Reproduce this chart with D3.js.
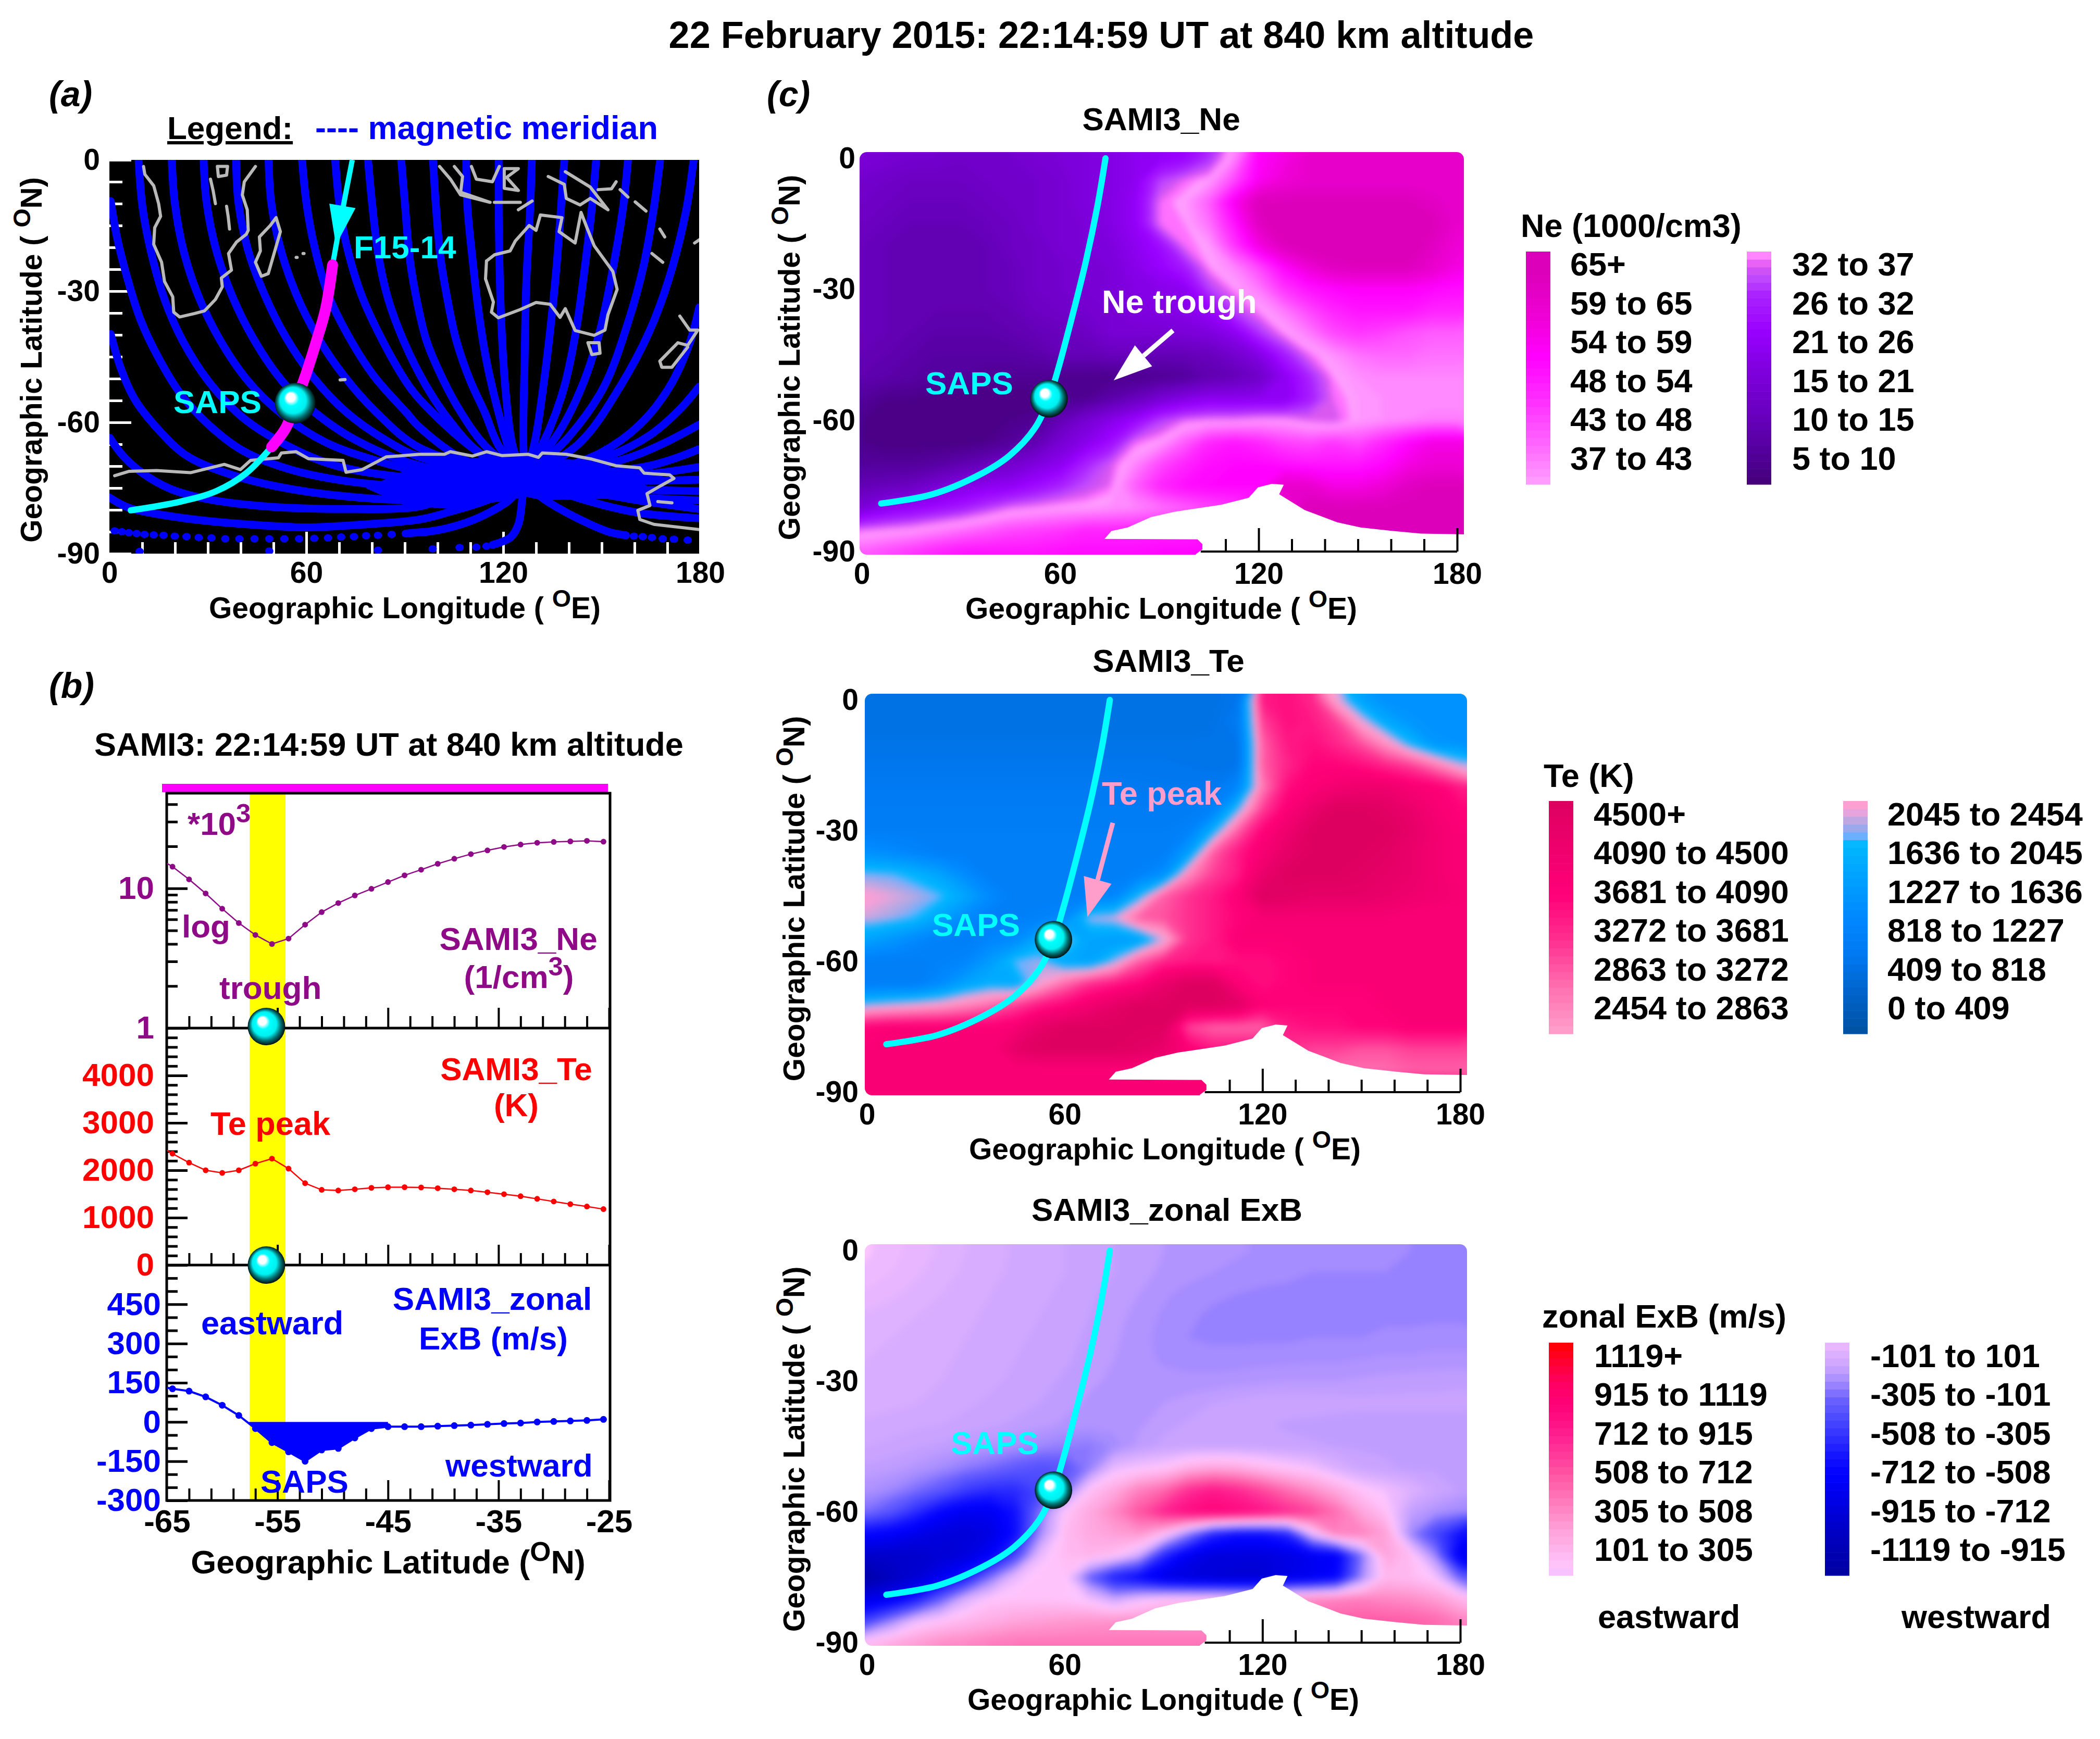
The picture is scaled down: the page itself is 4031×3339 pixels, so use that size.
<!DOCTYPE html>
<html>
<head>
<meta charset="utf-8">
<script src="https://cdnjs.cloudflare.com/ajax/libs/d3/7.8.5/d3.min.js"></script>
<style>
  body { margin: 0; background: #fff; }
  svg { display: block; }
  text { font-family: "Liberation Sans", Arial, sans-serif; font-weight: bold; }
</style>
</head>
<body>
<script>
/*******************************/
/*    Data  */
/*******************************/
// Panel (b): latitude of the samples
const sampleLat = [-65, -64.5, -63, -61.5, -60, -58.5, -57, -55.5, -54, -52.5, -51, -49.5, -48, -46.5, -45, -43.5, -42, -40.5, -39, -37.5, -36, -34.5, -33, -31.5, -30, -28.5, -27, -25.5];
const sampleNe = [15.1, 14.3, 11.6, 9.2, 7.15, 5.65, 4.64, 4.0, 4.37, 5.5, 6.76, 7.85, 8.9, 9.93, 11.1, 12.4, 13.6, 15.0, 16.3, 17.6, 18.7, 19.8, 20.6, 21.2, 21.5, 21.7, 21.9, 21.6];
const sampleTe = [2420, 2351, 2161, 2000, 1944, 2000, 2140, 2245, 2035, 1727, 1587, 1573, 1600, 1629, 1643, 1643, 1636, 1622, 1600, 1573, 1537, 1495, 1453, 1397, 1341, 1285, 1236, 1180];
const sampleExb = [131, 127, 118, 96, 64, 25, -25, -79, -114, -150, -107, -101, -61, -25, -18, -18, -18, -16, -14, -12, -9, -6, -4, 0, 2, 4, 6, 10];

// Satellite track (lon, lat)
const trackLon = [73.7, 71.3, 67.8, 63.6, 59.4, 56.6, 52.3, 44.6, 35.4, 21.4, 5.9];
const trackLat = [0, -10.8, -23.5, -36.3, -48.2, -55, -61.8, -68.1, -72.5, -76.9, -79];
const trackLonA = [74, 70.8, 68, 65.9, 63, 59.4, 56.6, 53.8, 49.4, 41.7, 32.6, 21.7, 6.5];
const trackLatA = [0, -12.4, -24, -34, -41.6, -50, -55.5, -61.2, -65.6, -71.6, -75.7, -78.1, -80.1];

// Panel (a): magnetic meridians as [lon, lat], each one ends at the pole
const pole = [126.5, -73];
const meridians = [
  [[0.4,-9.4],[2.2,-17.3],[5.3,-26.6],[9.5,-36.6],[15,-45.3],[21.7,-53.5],[30.2,-60.5],[40.5,-66.4],[53.9,-70.5],[72.1,-73.4],[94.5,-74.6]],
  [[0.4,-39.8],[3.5,-47.7],[7.7,-54.7],[15,-61.7],[23.5,-67.6],[35.7,-71.6],[50.8,-74.6],[72.1,-76.9],[94.5,-77.5]],
  [[0.1,-63.5],[4.1,-67.6],[10.1,-71.6],[18.6,-75.2],[29.6,-77.5],[47.8,-79.2],[72.1,-79.8],[94.5,-79.2],[103.9,-76.9]],
  [[0.1,-77.2],[5.9,-79.5],[17.4,-81.3],[29.6,-82.5],[47.8,-83.6],[60,-84],[78.2,-83.3],[94.5,-82.2],[103.9,-80.4],[116,-77.5]],
  [[90.3,-85.4],[94.8,-85.1],[96.9,-85],[103.9,-84],[113,-81.6],[122.2,-77.5]],
  [[116.7,-88],[122.2,-86.3],[124.6,-83.3],[125.8,-77.5]],
  [[8.9,0],[10.1,-10.9],[12.6,-20.8],[16.8,-31.9],[22.3,-41.3],[30.2,-50.6],[40.5,-58.8],[53.9,-65.2],[69.1,-69.9],[94.5,-72.8]],
  [[19,0],[19.9,-9.7],[22.6,-20.8],[27.2,-31.3],[33.8,-41.3],[42.3,-50.6],[52.7,-58.2],[66,-64.6],[81.2,-68.7],[94.5,-71.1]],
  [[28.7,0],[29.6,-9.7],[32.6,-20.8],[37.5,-31.3],[44.2,-41.3],[52.7,-50.6],[62.4,-57.6],[75.2,-64.1],[94.5,-69.9]],
  [[38.6,0],[39.3,-9.7],[42.3,-20.8],[47.2,-30.7],[53.9,-40.7],[61.8,-49.4],[72.1,-57.6],[84.3,-64.1],[94.5,-67.9]],
  [[48.5,0],[49.3,-9.7],[52.1,-20.2],[56.9,-30.7],[63.6,-40.7],[71.5,-49.4],[81.2,-57.6],[94.5,-65.8]],
  [[58.7,0],[60,-9.7],[62.4,-19.6],[66.6,-30.7],[72.7,-40.1],[80.6,-49.4],[90.3,-57.6],[94.5,-61.1],[108,-68.5]],
  [[68.8,0],[70,-9.7],[72.1,-19],[76.7,-30.7],[82.4,-40.1],[90.3,-50.6],[94.5,-54.7],[110,-65.5]],
  [[88.9,0],[90,-9.7],[91.5,-22.5],[93.6,-31.9],[96.6,-41.3],[101.5,-50],[107,-57.6],[114.3,-65.2]],
  [[78.8,0],[80,-9.7],[82,-22],[85,-32],[90,-42],[96,-51],[103,-59],[112,-66.5]],
  [[98.6,0],[99.4,-9.7],[100.9,-22.5],[103,-31.9],[105.7,-41.3],[110,-50.6],[114.3,-57.6],[118.5,-65.2]],
  [[108.7,0],[109.1,-10.9],[110.6,-22.5],[112.4,-34.2],[114.9,-46],[118.5,-57.6],[122.2,-67]],
  [[118.6,0],[118.6,-10.9],[118.8,-22.5],[119.4,-37.2],[120.6,-51.8],[122.8,-65.2]],
  [[128.7,0],[128.2,-10.9],[127,-28.4],[126.5,-46],[126.1,-63.5]],
  [[138.6,0],[137.6,-10.9],[136.1,-25.5],[134.3,-38.9],[132.2,-51.8],[129.7,-64.1]],
  [[148.3,0],[147,-10.9],[144.9,-24.3],[142.2,-38.9],[138.6,-51.8],[134.3,-61.1]],
  [[158,0],[156.5,-10.9],[153.4,-24.9],[149.5,-38.9],[144.6,-50.6],[137.9,-61.1]],
  [[167.8,0],[165.9,-10.9],[162.9,-23.7],[158,-37.2],[150.7,-51.8],[140.4,-62.9]],
  [[178,0],[175.6,-12],[170.7,-26.6],[164.7,-38.9],[155.6,-51.8],[143.4,-64.6]],
  [[179.7,-33.7],[176.8,-41.8],[170.7,-51.8],[161.6,-60.5],[149.5,-67]],
  [[179.7,-51.8],[173.8,-57],[164.7,-62.9],[152.5,-67.6]],
  [[179.7,-60.5],[167.7,-65.2],[155.6,-68.7]],
  [[179.7,-66.1],[164.7,-69.9]],
  [[179.7,-70.2],[161.6,-72]],
  [[179.7,-73.1],[158.6,-73.4]],
  [[179.7,-75.7],[158.6,-75.2]],
  [[179.7,-77.8],[158.6,-76.9]],
  [[179.7,-79.8],[158.6,-77.5]],
  [[179.7,-81.9],[161.6,-80.7],[146.5,-78.1]],
  [[157.4,-85.8],[152.5,-85.1],[146.5,-83.3],[137.3,-79.8],[131.3,-76.9]]
];
// Solid part where the meridians run together around the pole, it narrows off to the west and the east
const meridianCore = [[78,-75],[90,-71],[103.9,-68.4],[124.6,-67.6],[146.5,-68.8],[158,-72],[166,-75.5],[158,-77.5],[149.5,-77.5],[131.9,-77.8],[127,-77],[121.5,-77.8],[103.9,-79.8],[90,-79]];
// Separate blobs at the bottom of the meridian field
const meridianDots = [[1.6,-84.8],[3.8,-85],[5.9,-85.2],[8.3,-85.4],[10.7,-85.6],[13.5,-85.7],[16.5,-85.8],[19.9,-86],[23.5,-86.1],[27.2,-86.3],[31.1,-86.4],[35.3,-86.6],[39.6,-86.6],[44.2,-86.6],[48.7,-86.6],[53.3,-86.6],[57.8,-86.6],[62.4,-86.5],[66.6,-86.4],[70.6,-86.2],[74.5,-86.1],[78.2,-85.9],[81.8,-85.8],[86,-85.6],[90.3,-85.4],
  [176.2,-86.9],[172,-86.7],[168.6,-86.6],[165.3,-86.3],[162.5,-86.1],[159.8,-86],
  [9.2,-89.5],[48.7,-89.4],[81.8,-89.2],[98.5,-88.9],[106.7,-88.6],[111.8,-88.5],[114.9,-88.3]];

// Panel (a): coastlines as [lon, lat]
const coastlines = [
  [[10.4,-1.5],[10.8,-3.3],[13.5,-5.9],[15,-10],[15.6,-12.9],[13.8,-15.5],[13.5,-19.3],[15.9,-23.4],[16.8,-27.8],[19.3,-31.3],[19.6,-34.8],[21.4,-35.9],[26,-35.1],[29,-34.5],[32.3,-31.9],[34.4,-29],[34.1,-27],[37.2,-25.2],[36.3,-21.4],[38.7,-18.8],[41.7,-17],[42.3,-16.1],[42,-11.4],[40.5,-8],[41.1,-5],[44.5,-1.5]],
  [[50.8,-13.2],[49,-15],[45.7,-17.6],[46,-20.8],[44.5,-23.4],[46.3,-26.6],[48.4,-26],[52.1,-16.4],[50.8,-13.2]],
  [[32.9,-1.5],[36,-1.5],[35.7,-3.5],[33.2,-3.8],[32.9,-1.5]],
  [[30.8,-4.4],[31.6,-7],[32.3,-10]],
  [[35.7,-10.6],[36.2,-13],[36.6,-15.8]],
  [[56.9,-22.3],[57.2,-22.3]],
  [[59,-21.4],[59.3,-21.4]],
  [[70.3,-50.3],[71.8,-50.2]],
  [[114.9,-23.1],[114.6,-27.2],[117,-32.5],[116.4,-34.8],[118.5,-36.1],[125.2,-34.2],[130,-32.6],[134.3,-33],[137.3,-36],[138.9,-34],[141.9,-39],[147.7,-40.1],[151,-38.9],[151.9,-35.4],[154.7,-29.6],[153.4,-25.5],[147.7,-19.6],[145.5,-15.5],[143.7,-12],[141.9,-19],[137,-16.4],[137.9,-13.2],[131.3,-12.6],[130,-16.1],[127.9,-15],[123.7,-18.5],[122.1,-20.8],[117.3,-21.7],[114.9,-23.1]],
  [[145.8,-41.8],[149.2,-41.8],[149.5,-44.2],[147,-44.5],[145.8,-41.8]],
  [[173.8,-35.7],[176.8,-38.9],[179.3,-38.9],[176.2,-42.4],[173.2,-41.8],[167.7,-46],[168.3,-47.4],[171.4,-47.4],[176.2,-42.8]],
  [[138.9,-2.7],[146.5,-6.2],[151.9,-11.4],[146.5,-8.8],[143.4,-10.3],[139.2,-8.8],[138.6,-5.6],[133.7,-3.8]],
  [[100.6,-1.5],[103.9,-4.4],[107,-8],[116,-9.7],[107,-7.4]],
  [[105.1,-1.5],[107.6,-3.8],[107,-7.6]],
  [[110.3,-1.5],[111.8,-4.4],[116.7,-5],[118.8,-1.5]],
  [[120.3,-2],[124.6,-2],[121,-4],[124.6,-7],[120.3,-6.5],[120.3,-2]],
  [[117.3,-9.7],[125.2,-9.7]],
  [[124.6,-11.4],[128.8,-9.4]],
  [[148.9,-6.8],[153,-6.6],[154.4,-5]],
  [[155.6,-6.8],[158,-8.5]],
  [[160.2,-9.6],[163.5,-11.7]],
  [[167.7,-15.8],[169.2,-17.6]],
  [[165.3,-21.4],[168.6,-23.4]],
  [[178.3,-19],[181,-17.6]],
  [[1.6,-72.2],[5.9,-71.2],[14.4,-71],[24.7,-71.5],[35,-69.6],[39.9,-70.8],[43,-68.7],[51.5,-68.1],[52.4,-67],[56.9,-66.7],[60.6,-68.3],[71.2,-68.7],[72.1,-71.4],[77,-70.8],[84.3,-67.9],[94.5,-67.3],[102.1,-67.3],[103.9,-66.7],[110.6,-67.7],[114.9,-66.7],[119.7,-67.6],[127.6,-67.3],[130.7,-68],[131.9,-67],[139.2,-67.3],[147,-68.4],[154.3,-69.9],[161.6,-70.4],[162.9,-71.6],[170.7,-72],[172,-72.8],[167.7,-74.6],[163.8,-76.3],[164.7,-79],[161,-80.1],[161.6,-82.2],[165.9,-83.3],[181,-84.6]],
  [[167.1,-78.1],[171.4,-78.4]]
];

// Panel (c): white area with no model data, [lon, lat]
const holeOutline = [[73.4,-87.1],[75.5,-85.3],[80.4,-84.5],[87.5,-82.1],[94.5,-80.9],[101.5,-80.1],[108.6,-79.3],[117,-77.7],[119.8,-75.3],[124,-74.5],[127.6,-74.7],[126.2,-76.9],[133.9,-80.5],[143.7,-83.3],[150.8,-84.5],[160.6,-85.3],[169,-85.9],[184,-86.1],[184,-92],[101,-92],[101,-90.6],[103,-89.5],[103,-88.3],[101.5,-87.2]];

// Panel (c): model grids, one row per 5 deg of latitude from 0 to -90, one column per 7.5 deg of longitude
const gridNe = [
  [20,19,18,18,17,17,18,19,20,21,22,24,25,27,32,40,55,58,62,62,62,62,62,62,62],
  [18,17,16,16,16,17,17,18,19,21,22,24,33,36,38,46,56,60,62,62,62,62,62,62,62],
  [17,16,15,15,15,16,17,18,19,21,22,25,36,38,44,56,66,66,66,66,66,66,66,64,62],
  [16,15,14,14,14,15,16,18,19,20,22,25,36,37,42,52,64,68,68,68,68,68,68,66,62],
  [15,14,13,13,13,14,16,17,19,20,21,24,28,36,38,48,58,65,68,68,68,68,68,64,60],
  [15,14,13,13,13,14,15,17,18,19,20,23,26,30,37,40,46,54,60,64,65,65,65,62,58],
  [15,14,13,13,13,14,15,17,18,19,20,22,23,24,33,37,41,48,52,54,55,55,55,54,53],
  [15,14,13,13,13,13,14,16,17,18,19,21,22,23,26,33,37,41,46,50,52,52,52,50,50],
  [15,14,13,12,12,12,13,14,15,16,19,19,19,20,21,24,32,37,41,46,48,47,45,44,44],
  [14,13,12,11,11,11,11,12,14,14,15,15,14,14,15,18,22,30,36,39,42,43,43,42,42],
  [13,12,11,10,10,9,9,9,8,8,8,8,9,10,13,14,17,24,31,37,39,40,40,40,40],
  [10,8,8,7,7,7,7,7,8,9,12,15,19,22,24,24,24,24,30,36,38,39,39,39,39],
  [8,7,7,7,7,7,8,9,14,19,23,27,33,36,37,37,38,38,36,35,38,39,40,41,41],
  [8,7,7,7,7,8,10,13,19,23,28,36,38,44,50,52,50,47,46,48,46,50,54,58,58],
  [10,10,10,11,13,15,18,21,24,31,35,40,46,50,53,54,54,53,52,52,52,54,58,60,60],
  [14,15,16,19,22,24,25,28,31,34,36,44,50,53,54,54,54,62,62,58,58,60,64,66,66],
  [20,24,26,28,30,33,36,37,38,38,39,40,42,44,46,48,50,60,66,66,66,66,66,66,66],
  [36,37,38,40,42,44,46,47,48,50,50,50,50,50,52,52,52,60,66,66,66,66,66,66,66],
  [44,46,48,50,52,52,52,52,53,53,53,53,54,54,54,54,54,54,66,66,66,66,66,66,66]
];
const gridTe = [
  [700,700,700,700,700,700,700,700,700,700,700,700,700,700,720,800,3500,3600,3400,2400,1700,1400,1400,1400,1400],
  [720,720,720,720,720,720,720,720,720,720,720,720,720,720,740,900,3200,3600,3500,3200,2400,1800,1500,1400,1400],
  [760,760,760,760,760,760,760,760,760,760,760,760,760,760,760,800,3000,3500,3600,3400,3100,2600,2000,1500,1450],
  [820,820,820,820,820,820,820,820,820,820,820,820,820,800,780,800,3000,3400,3700,3700,3600,3400,3200,2800,2300],
  [900,900,900,900,900,900,900,900,900,900,900,880,860,860,860,1200,2800,3600,3800,4000,4100,4100,3900,3800,3500],
  [950,950,950,950,950,950,950,950,950,950,950,950,950,950,1100,2100,3200,3800,4200,4500,4500,4400,4200,3900,3700],
  [1000,1000,1000,1000,1000,1000,1000,1000,1000,1000,1000,1000,1000,1100,1900,3000,3700,4100,4500,4500,4500,4500,4300,4000,3800],
  [1400,1300,1150,1050,1000,1000,1000,1000,1000,1000,1000,1000,1000,1600,3000,3500,3900,4300,4500,4500,4500,4400,4200,4000,3800],
  [2150,2100,1950,1700,1300,1000,1000,1000,1000,1000,1000,1100,1400,2700,3200,3500,4200,4500,4500,4500,4400,4300,4200,4000,3800],
  [2450,2350,2250,2100,1750,1300,1000,1000,1000,1100,1200,2000,3000,3300,3500,3800,4500,4400,4300,4300,4300,4200,4100,4000,3900],
  [2300,2200,2050,1700,1300,1000,1050,1100,1300,2200,2300,3000,3100,3300,3500,3700,3900,3900,3900,3900,3900,3900,3800,3800,3800],
  [1700,1500,1250,1050,1000,1200,1300,1800,2300,1700,1600,1650,2300,3300,3500,3800,3800,3800,3800,3800,3800,3800,3800,3800,3800],
  [1000,1000,1000,1100,1200,1600,2100,2200,1800,1700,2200,3000,3400,3500,3500,3600,3600,3700,3800,3800,3800,3800,3800,3800,3800],
  [1000,1000,1000,1300,1700,1900,1800,2400,2900,3300,3500,3700,4200,4500,4500,3800,3600,3700,3800,3800,3800,3800,3800,3800,3800],
  [2200,2300,2400,2500,2700,2900,3200,3500,3700,4000,4300,4500,4500,4500,4500,4400,3800,3700,3700,3700,3700,3800,3800,3800,3800],
  [3700,3800,3800,3800,3800,3800,3900,4300,4500,4500,4500,4500,4500,3200,3000,3000,3000,3500,3600,3600,3700,3700,3800,3800,3800],
  [3800,3800,3800,3800,3800,3800,4300,4500,4500,4500,4500,4400,4200,3800,3500,3500,3500,3300,3200,3200,3100,3100,3200,3200,3200],
  [3800,3800,3800,3800,3800,3800,3800,3800,3800,3800,3800,3800,3800,3800,3800,3800,3800,3800,3000,2900,2900,2900,3000,3000,3000],
  [3800,3800,3800,3800,3800,3800,3800,3800,3800,3800,3800,3800,3800,3800,3800,3800,3800,3800,3800,3800,3800,3800,3800,3800,3800]
];
const gridExb = [
  [130,110,90,70,50,40,20,10,0,-10,-25,-40,-50,-55,-60,-70,-80,-90,-90,-95,-100,-100,-100,-105,-110],
  [120,100,80,60,45,30,20,10,0,-10,-25,-40,-55,-65,-75,-85,-90,-95,-100,-100,-100,-100,-105,-110,-110],
  [95,80,65,50,35,25,15,5,-5,-20,-35,-50,-70,-85,-95,-100,-105,-105,-105,-105,-105,-105,-110,-110,-110],
  [70,60,50,40,30,20,10,0,-10,-25,-40,-60,-80,-95,-105,-110,-110,-110,-110,-105,-105,-105,-105,-105,-105],
  [60,50,45,35,25,15,5,-5,-15,-30,-45,-65,-85,-100,-105,-105,-105,-105,-100,-100,-100,-95,-95,-90,-90],
  [50,45,40,30,20,10,0,-10,-20,-35,-50,-65,-80,-90,-90,-90,-85,-85,-80,-80,-75,-70,-70,-65,-65],
  [45,35,30,25,15,5,-5,-15,-30,-45,-55,-60,-65,-65,-65,-60,-55,-50,-50,-50,-45,-40,-35,-35,-30],
  [35,30,25,15,5,-5,-15,-25,-40,-55,-60,-55,-50,-40,-25,-15,-5,-5,-5,-10,-15,-15,-15,-15,-15],
  [20,15,5,0,-10,-20,-30,-40,-55,-65,-65,-55,-35,-20,-15,-15,-20,-30,-35,-40,-40,-40,-40,-40,-40],
  [0,-10,-20,-30,-45,-60,-80,-100,-120,-130,-90,-40,-15,0,0,0,-5,-15,-20,-25,-30,-30,-30,-30,-30],
  [-30,-40,-60,-90,-130,-170,-220,-260,-240,-120,100,140,170,260,300,280,220,170,130,50,0,-20,-30,-30,-30],
  [-70,-100,-160,-230,-340,-400,-400,-300,-170,180,280,420,500,680,760,700,600,480,380,280,170,120,60,0,-30],
  [-160,-250,-400,-560,-650,-650,-500,-150,160,280,400,560,720,820,850,830,780,700,620,480,300,180,-30,-70,-100],
  [-550,-600,-680,-750,-780,-720,-520,-100,200,280,320,350,200,-100,-400,-500,-500,-400,100,420,420,320,-100,-300,-500],
  [-850,-850,-850,-800,-750,-600,-300,100,200,230,180,20,-400,-650,-750,-760,-760,-720,-650,-600,-150,300,200,-100,-650],
  [-1050,-900,-800,-650,-450,-150,100,170,170,-200,-450,-550,-700,-750,-780,-800,-800,-700,-650,-550,-100,220,200,130,-200],
  [-700,-620,-450,-200,50,160,170,170,160,120,0,100,170,180,190,190,190,380,400,420,430,400,380,330,240],
  [-300,-100,100,170,220,260,300,320,340,350,360,360,360,360,360,360,360,360,480,520,540,540,530,500,420],
  [200,280,330,380,400,430,450,450,450,450,450,450,450,450,450,450,450,450,450,450,450,450,450,450,450]
];

// Colour ramps
const neStops = [5, 10, 15, 21, 26, 31, 33, 35, 36, 37, 43, 48, 54, 59, 65];
const neColors = ["#440077", "#5500a0", "#6a00c0", "#8000e0", "#9900ff", "#aa22ff", "#bb44ff", "#d858f0", "#ff70ff", "#ff9fff", "#ff60ff", "#ff30ff", "#ff00ff", "#f000d8", "#dd00bb"];
const teStops = [0, 409, 818, 1227, 1636, 2000, 2090, 2180, 2270, 2360, 2454, 2863, 3272, 3681, 4090, 4500];
const teColors = ["#0050a0", "#0062c8", "#0078f0", "#0088ff", "#00a0ff", "#00b8ff", "#70b0ff", "#a0a8e8", "#c8a8e0", "#f5a0d8", "#ffa0cc", "#ff70b0", "#ff3090", "#ff0078", "#ee006c", "#dd0060"];
const exbStops = [-1119, -915, -712, -600, -508, -305, -200, -100, -40, 40, 100, 130, 305, 508, 712, 850, 950, 1119];
const exbColors = ["#0000a0", "#0000c0", "#0000e8", "#0000ff", "#1010ff", "#4848ff", "#6a60ff", "#a58cff", "#c4a0ff", "#dcb0ff", "#eebaff", "#ffc8ff", "#ffa0d8", "#ff60a8", "#ff2090", "#ff0078", "#ff0060", "#ff0000"];

// Legend labels
const neLabels = ["65+", "59 to 65", "54 to 59", "48 to 54", "43 to 48", "37 to 43", "32 to 37", "26 to 32", "21 to 26", "15 to 21", "10 to 15", "5 to 10"];
const teLabels = ["4500+", "4090 to 4500", "3681 to 4090", "3272 to 3681", "2863 to 3272", "2454 to 2863", "2045 to 2454", "1636 to 2045", "1227 to 1636", "818 to 1227", "409 to 818", "0 to 409"];
const exbLabels = ["1119+", "915 to 1119", "712 to 915", "508 to 712", "305 to 508", "101 to 305", "-101 to 101", "-305 to -101", "-508 to -305", "-712 to -508", "-915 to -712", "-1119 to -915"];

const lonTicks = [0, 60, 120, 180];
const latTicks = [0, -30, -60, -90];
const saps = { lon: 56.6, lat: -55 };

const tickFont = 57;
const cyan = "#00ffff";

/*******************************/
/*    Append the containers    */
/*******************************/
const svg = d3.select("body")
  .append("svg")
    .attr("width", 4031)
    .attr("height", 3339)
    .attr("viewBox", "0 0 4031 3339");
const defs = svg.append("defs");

const ball = defs.append("radialGradient")
  .attr("id", "ball")
  .attr("cx", "50%").attr("cy", "50%").attr("r", "52%")
  .attr("fx", "36%").attr("fy", "32%");
[[0, "#ffffff"], [0.2, "#ffffff"], [0.36, "#00ffff"], [0.62, "#00f0f0"], [0.8, "#006f70"], [1, "#000000"]]
  .forEach(s => ball.append("stop").attr("offset", s[0]).attr("stop-color", s[1]));

// Soft edges for the model maps
defs.append("filter")
  .attr("id", "soft")
  .attr("filterUnits", "userSpaceOnUse")
  .attr("x", 1500).attr("y", 200).attr("width", 1500).attr("height", 3100)
  .attr("color-interpolation-filters", "sRGB")
  .append("feGaussianBlur")
    .attr("stdDeviation", 7);

// Write a text with optional superscript parts, parts are strings or ["3"]
const addText = (parent, x, y, parts, size, fill, anchor = "start", extra = {}) => {
  const t = parent.append("text")
    .attr("x", x)
    .attr("y", y)
    .attr("font-size", size)
    .attr("fill", fill)
    .attr("text-anchor", anchor);
  Object.keys(extra).forEach(k => t.attr(k, extra[k]));
  let lift = 0;
  (Array.isArray(parts) ? parts : [parts]).forEach(p => {
    const sup = Array.isArray(p);
    const wanted = sup ? -0.38 * size : 0;
    t.append("tspan")
      .attr("dy", wanted - lift)
      .attr("font-size", sup ? size * 0.82 : size)
      .text(sup ? p[0] : p);
    lift = wanted;
  });
  return t;
};

const ballAt = (parent, x, y, r) => parent.append("circle")
  .attr("cx", x).attr("cy", y).attr("r", r)
  .attr("fill", "url(#ball)");

const pathOf = (xs, ys) => d3.line().x(d => xs(d[0])).y(d => ys(d[1])).curve(d3.curveCatmullRom.alpha(0.5));

// Inside ticks through d3 axes, the labels are switched off
const ticks = (parent, axis, scale, values, size, color, width, at) => {
  const a = axis(scale).tickValues(values).tickSize(-size).tickFormat("");
  const g = parent.append("g").attr("transform", at).call(a);
  g.select(".domain").remove();
  g.selectAll("line").attr("stroke", color).attr("stroke-width", width);
  return g;
};

// Labels only
const labels = (parent, axis, scale, values, pad, color, size, at, fmt = d => d) => {
  const g = parent.append("g").attr("transform", at)
    .call(axis(scale).tickValues(values).tickSize(0).tickPadding(pad).tickFormat(fmt));
  g.select(".domain").remove();
  g.attr("font-family", null).attr("font-size", size);
  g.selectAll("text").attr("fill", color);
  return g;
};

// Titles
addText(svg, 2114, 92, "22 February 2015: 22:14:59 UT at 840 km altitude", 72, "#000", "middle");
addText(svg, 94, 204, "(a)", 68, "#000", "start", { "font-style": "italic" });
addText(svg, 94, 1340, "(b)", 68, "#000", "start", { "font-style": "italic" });
addText(svg, 1472, 204, "(c)", 68, "#000", "start", { "font-style": "italic" });

/*****************************/
/*    Panel (a): meridians   */
/*****************************/
const xA = d3.scaleLinear().domain([0, 180]).range([210, 1344]);
const yA = d3.scaleLinear().domain([0, -90]).range([307, 1063]);
const lineA = pathOf(xA, yA);

addText(svg, 321, 267, "Legend:", 62, "#000", "start", { "text-decoration": "underline" });
addText(svg, 605, 267, "---- magnetic meridian", 63, "#0000ff");

svg.append("rect")
  .attr("x", xA(0)).attr("y", yA(0))
  .attr("width", xA(180) - xA(0) - 2).attr("height", yA(-90) - yA(0))
  .attr("fill", "#000");
defs.append("clipPath").attr("id", "clip-a")
  .append("rect")
    .attr("x", xA(0)).attr("y", yA(0))
    .attr("width", xA(180) - xA(0) - 2).attr("height", yA(-90) - yA(0));
const inA = svg.append("g").attr("clip-path", "url(#clip-a)");

ticks(inA, d3.axisBottom, xA, d3.range(10, 180, 10).filter(v => v % 60), 22, "#fff", 5, `translate(0, ${yA(-90)})`);
ticks(inA, d3.axisBottom, xA, [60, 120], 42, "#fff", 5, `translate(0, ${yA(-90)})`);
ticks(inA, d3.axisRight, yA, d3.range(-85, 0, 5).filter(v => v % 30), -25, "#fff", 5, `translate(${xA(0)}, 0)`);
ticks(inA, d3.axisRight, yA, [0, -30, -60, -90], -42, "#fff", 5, `translate(${xA(0)}, 0)`);

inA.append("g").selectAll("path")
  .data(meridians)
  .join("path")
    .attr("d", d => lineA(d.concat([pole])))
    .attr("fill", "none")
    .attr("stroke", "#0000ff")
    .attr("stroke-width", 15)
    .attr("stroke-linecap", "round");
inA.append("polygon")
  .attr("points", meridianCore.map(d => [xA(d[0]), yA(d[1])].join(",")).join(" "))
  .attr("fill", "#0000ff");
inA.append("g").selectAll("circle")
  .data(meridianDots)
  .join("ellipse")
    .attr("cx", d => xA(d[0]))
    .attr("cy", d => yA(d[1]))
    .attr("rx", 8)
    .attr("ry", 7)
    .attr("fill", "#0000ff");
inA.append("g").selectAll("path")
  .data(coastlines)
  .join("path")
    .attr("d", d => d3.line().x(p => xA(p[0])).y(p => yA(p[1]))(d))
    .attr("fill", "none")
    .attr("stroke", "#b9b9b9")
    .attr("stroke-width", 6)
    .attr("stroke-linejoin", "round")
    .attr("stroke-linecap", "round");

// Track in panel (a): cyan with a magenta stretch around SAPS
const trackA = trackLonA.map((lon, i) => [lon, trackLatA[i]]);
svg.append("path")
  .attr("d", lineA(trackA.filter(d => d[1] >= -25)))
  .attr("fill", "none").attr("stroke", cyan).attr("stroke-width", 10);
svg.append("path")
  .attr("d", lineA(trackA.filter(d => d[1] <= -65)))
  .attr("fill", "none").attr("stroke", cyan).attr("stroke-width", 12).attr("stroke-linecap", "round");
svg.append("path")
  .attr("d", lineA(trackA.filter(d => d[1] <= -24 && d[1] >= -66)))
  .attr("fill", "none").attr("stroke", "#ff00ff").attr("stroke-width", 21).attr("stroke-linecap", "round");
svg.append("polygon")
  .attr("points", [[67, -10], [75, -11], [69, -19.5]].map(d => [xA(d[0]), yA(d[1])].join(",")).join(" "))
  .attr("fill", cyan);
ballAt(svg, xA(saps.lon), yA(-55.6), 39);
addText(svg, 679, 496, "F15-14", 62, cyan);
addText(svg, 333, 793, "SAPS", 62, cyan);

labels(svg, d3.axisBottom, xA, lonTicks, 16, "#000", tickFont, `translate(0, ${yA(-90)})`);
labels(svg, d3.axisLeft, yA, latTicks, 18, "#000", tickFont, `translate(${xA(0)}, 0)`);
addText(svg, 777, 1187, ["Geographic Longitude ( ", ["O"], "E)"], 57, "#000", "middle");
addText(svg, 0, 0, ["Geographic Latitude ( ", ["O"], "N)"], 57, "#000", "middle", { transform: "translate(80, 691) rotate(-90)" });

/*****************************/
/*    Panel (b): profiles    */
/*****************************/
const xB = d3.scaleLinear().domain([-65, -25]).range([320.5, 1169]);
const yNe = d3.scaleLog().domain([1, 48]).range([1974, 1523]);
const yTe = d3.scaleLinear().domain([0, 5000]).range([2429, 1974]);
const yExb = d3.scaleLinear().domain([-300, 600]).range([2881, 2429]);

addText(svg, 181, 1451, "SAMI3: 22:14:59 UT at 840 km altitude", 63, "#000");
svg.append("rect").attr("x", 311).attr("y", 1505).attr("width", 856).attr("height", 16).attr("fill", "#ff00ff");
svg.append("rect")
  .attr("x", xB(-57.52)).attr("y", 1523)
  .attr("width", xB(-54.27) - xB(-57.52)).attr("height", 2881 - 1523)
  .attr("fill", "#ffff00");

// Ticks of the three stacked panels
[{ y: yNe, base: 1974, major: [1, 10], minor: [2, 3, 4, 5, 6, 7, 8, 9, 20, 30, 40] },
 { y: yTe, base: 2429, major: [0, 1000, 2000, 3000, 4000], minor: d3.range(200, 5000, 200).filter(v => v % 1000) },
 { y: yExb, base: 2881, major: [-300, -150, 0, 150, 300, 450], minor: d3.range(-250, 600, 50).filter(v => v % 150) }
].forEach(p => {
  ticks(svg, d3.axisRight, p.y, p.major, -40, "#000", 5, "translate(320, 0)");
  ticks(svg, d3.axisRight, p.y, p.minor, -21, "#000", 5, "translate(320, 0)");
  ticks(svg, d3.axisBottom, xB, d3.range(-63, -25, 2).filter(v => (v + 65) % 10), 23, "#000", 4, `translate(0, ${p.base})`);
  ticks(svg, d3.axisBottom, xB, [-55, -45, -35, -25], 39, "#000", 4, `translate(0, ${p.base})`);
});

// Frame
svg.append("rect")
  .attr("x", 320).attr("y", 1523)
  .attr("width", 851).attr("height", 2881 - 1523)
  .attr("fill", "none").attr("stroke", "#000").attr("stroke-width", 5);
[1974, 2429].forEach(v => svg.append("line")
  .attr("x1", 320).attr("x2", 1171).attr("y1", v).attr("y2", v)
  .attr("stroke", "#000").attr("stroke-width", 5));

// Ne
const profile = sampleLat.map((lat, i) => ({ lat, ne: sampleNe[i], te: sampleTe[i], exb: sampleExb[i] }));
const purple = "#8e0a86";
const drawProfile = (key, yScale, color, lineWidth, dotR) => {
  svg.append("path")
    .attr("d", d3.line().x(d => xB(d.lat)).y(d => yScale(d[key]))(profile))
    .attr("fill", "none")
    .attr("stroke", color)
    .attr("stroke-width", lineWidth);
  svg.append("g").selectAll("circle")
    .data(profile.slice(1))
    .join("circle")
      .attr("cx", d => xB(d.lat))
      .attr("cy", d => yScale(d[key]))
      .attr("r", dotR)
      .attr("fill", color);
};
drawProfile("ne", yNe, purple, 2.5, 5.5);
drawProfile("te", yTe, "#ff0000", 2.5, 5.5);

// SAPS filled dip of the zonal drift
const dip = [{ lat: -57.6, exb: 0 }].concat(profile.filter(d => d.lat >= -57 && d.lat <= -45));
svg.append("path")
  .attr("d", d3.area().x(d => xB(d.lat)).y0(yExb(0)).y1(d => yExb(d.exb))(dip))
  .attr("fill", "#0000ff");
drawProfile("exb", yExb, "#0000ff", 4, 6.5);

ballAt(svg, xB(-56), 1971, 36);
ballAt(svg, xB(-56), 2429, 36);

labels(svg, d3.axisLeft, yNe, [1, 10], 24, purple, 62, "translate(320, 0)");
labels(svg, d3.axisLeft, yTe, [0, 1000, 2000, 3000, 4000], 24, "#ff0000", 62, "translate(320, 0)");
labels(svg, d3.axisLeft, yExb, [-300, -150, 0, 150, 300, 450], 11, "#0000ff", 62, "translate(320, 0)");
labels(svg, d3.axisBottom, xB, [-65, -55, -45, -35, -25], 17, "#000", 62, "translate(0, 2881)");
addText(svg, 745, 3021, ["Geographic Latitude (", ["O"], "N)"], 63, "#000", "middle");

addText(svg, 360, 1603, ["*10", ["3"]], 62, purple);
addText(svg, 349, 1800, "log", 62, purple);
addText(svg, 421, 1918, "trough", 62, purple);
addText(svg, 995, 1824, "SAMI3_Ne", 62, purple, "middle");
addText(svg, 996, 1897, ["(1/cm", ["3"], ")"], 62, purple, "middle");
addText(svg, 991, 2074, "SAMI3_Te", 62, "#ff0000", "middle");
addText(svg, 991, 2143, "(K)", 62, "#ff0000", "middle");
addText(svg, 404, 2179, "Te peak", 63, "#ff0000");
addText(svg, 945, 2515, "SAMI3_zonal", 62, "#0000ff", "middle");
addText(svg, 947, 2591, "ExB (m/s)", 62, "#0000ff", "middle");
addText(svg, 386, 2562, "eastward", 63, "#0000ff");
addText(svg, 855, 2835, "westward", 62, "#0000ff");
addText(svg, 500, 2866, "SAPS", 62, "#0000ff");

/*****************************/
/*    Panel (c): model maps  */
/*****************************/
const track = trackLon.map((lon, i) => [lon, trackLat[i]]);

const drawMap = (cfg) => {
  const x = d3.scaleLinear().domain([0, 180]).range(cfg.xRange);
  const y = d3.scaleLinear().domain([0, -90]).range(cfg.yRange);
  const color = d3.scaleLinear().domain(cfg.stops).range(cfg.colors).clamp(true);

  addText(svg, cfg.titleX, cfg.titleY, cfg.title, 62, "#000", "middle");

  // Axis labels
  labels(svg, d3.axisBottom, x, lonTicks, 22, "#000", tickFont, `translate(0, ${y(-90)})`);
  labels(svg, d3.axisLeft, y, latTicks, cfg.latPad, "#000", tickFont, `translate(${x(0)}, 0)`);
  addText(svg, cfg.titleX + (cfg.id === "ne" ? 0 : -7), y(-90) + 129, ["Geographic Longitude ( ", ["O"], "E)"], 57, "#000", "middle");
  addText(svg, 0, 0, ["Geographic Latitude ( ", ["O"], "N)"], 57, "#000", "middle", { transform: `translate(${cfg.latTitleX}, ${(y(0) + y(-90)) / 2 + 5}) rotate(-90)` });

  // Smooth bands from the grid with d3.contours
  const clipId = `clip-${cfg.id}`;
  const box = { x: x(0) - 4, y: y(0) - 12, w: x(180) - x(0) + 17, h: y(-90) - y(0) + 18 };
  defs.append("clipPath").attr("id", clipId)
    .append("rect").attr("x", box.x).attr("y", box.y).attr("width", box.w).attr("height", box.h).attr("rx", 14);
  const heat = svg.append("g").attr("clip-path", `url(#${clipId})`)
    .append("g").attr("filter", "url(#soft)");
  heat.append("rect").attr("x", box.x - 40).attr("y", box.y - 40).attr("width", box.w + 80).attr("height", box.h + 80)
    .attr("fill", color(cfg.thresholds[0]));
  // Vertices on the border of the grid are pushed out so that the blur stays inside the bands
  const project = d3.geoTransform({
    point(px, py) {
      const lon = px <= 0 ? -12 : px >= 25 ? 192 : (px - 0.5) * 7.5;
      const lat = py <= 0 ? 8 : py >= 19 ? -98 : -(py - 0.5) * 5;
      this.stream.point(x(lon), y(lat));
    }
  });
  const geo = d3.geoPath(project);
  const bands = d3.contours().size([25, 19]).thresholds(cfg.thresholds)(cfg.grid.flat());
  heat.selectAll("path")
    .data(bands)
    .join("path")
      .attr("d", geo)
      .attr("fill", d => color(d.value));

  // No data area and the ticks that show through it
  svg.append("polygon")
    .attr("points", holeOutline.map(d => [x(d[0]), y(d[1])].join(",")).join(" "))
    .attr("fill", "#fff");
  svg.append("line")
    .attr("x1", x(102.5)).attr("x2", x(180)).attr("y1", y(-90)).attr("y2", y(-90))
    .attr("stroke", "#000").attr("stroke-width", 4);
  ticks(svg, d3.axisBottom, x, d3.range(110, 180, 10).filter(v => v % 60), 24, "#000", 4, `translate(0, ${y(-90)})`);
  ticks(svg, d3.axisBottom, x, [120, 180], 45, "#000", 4, `translate(0, ${y(-90)})`);

  // Track and SAPS
  svg.append("path")
    .attr("d", pathOf(x, y)(track))
    .attr("fill", "none")
    .attr("stroke", cyan)
    .attr("stroke-width", 12)
    .attr("stroke-linecap", "round");
  ballAt(svg, x(saps.lon), y(saps.lat), 36);

  return { x, y, color };
};

const neMap = drawMap({
  id: "ne", title: "SAMI3_Ne", titleX: 2229, titleY: 250,
  xRange: [1654, 2797], yRange: [304, 1059], latPad: 12, latTitleX: 1535,
  grid: gridNe, thresholds: d3.range(5, 71, 1), stops: neStops, colors: neColors
});
const teMap = drawMap({
  id: "te", title: "SAMI3_Te", titleX: 2243, titleY: 1290,
  xRange: [1664, 2803], yRange: [1344, 2097], latPad: 16, latTitleX: 1544,
  grid: gridTe, thresholds: d3.range(0, 4600, 50), stops: teStops, colors: teColors
});
const exbMap = drawMap({
  id: "exb", title: "SAMI3_zonal ExB", titleX: 2240, titleY: 2344,
  xRange: [1664, 2803], yRange: [2401, 3154], latPad: 16, latTitleX: 1544,
  grid: gridExb, thresholds: d3.range(-1150, 1150, 25), stops: exbStops, colors: exbColors
});

// Arrows and notes on the maps
const arrow = (map, from, tip, a, b, color, width) => {
  svg.append("line")
    .attr("x1", map.x(from[0])).attr("y1", map.y(from[1]))
    .attr("x2", map.x((a[0] + b[0]) / 2)).attr("y2", map.y((a[1] + b[1]) / 2))
    .attr("stroke", color).attr("stroke-width", width);
  svg.append("polygon")
    .attr("points", [tip, a, b].map(d => [map.x(d[0]), map.y(d[1])].join(",")).join(" "))
    .attr("fill", color);
};
arrow(neMap, [94.1, -39.4], [76.2, -50.8], [82.6, -42.8], [87.8, -47.6], "#ffffff", 9);
arrow(teMap, [74.6, -28.2], [66.9, -49.8], [65.8, -40.4], [74.2, -42.2], "#ff9ecb", 9);
addText(svg, 1776, 757, "SAPS", 62, cyan);
addText(svg, 2115, 601, "Ne trough", 63, "#ffffff");
addText(svg, 2115, 1545, "Te peak", 63, "#ff9ecb");
addText(svg, 1789, 1797, "SAPS", 62, cyan);
addText(svg, 1825, 2792, "SAPS", 62, cyan);

/*****************************/
/*        Map legends        */
/*****************************/
const drawLegend = (cfg) => {
  const color = d3.scaleLinear().domain(cfg.stops).range(cfg.colors).clamp(true);
  addText(svg, cfg.titleX, cfg.titleY, cfg.title, 63, "#000");
  cfg.bars.forEach((bar, b) => {
    const yBar = d3.scaleLinear().domain([bar.lo, bar.hi]).range([cfg.bottom, cfg.top]);
    const steps = d3.range(30);
    const stepValue = i => bar.lo + (bar.hi - bar.lo) * (i + 0.5) / 30;
    svg.append("g").selectAll("rect")
      .data(steps)
      .join("rect")
        .attr("x", bar.x)
        .attr("width", cfg.barWidth)
        .attr("y", i => yBar(bar.lo + (bar.hi - bar.lo) * (i + 1) / 30))
        .attr("height", (cfg.bottom - cfg.top) / 30 + 0.6)
        .attr("fill", i => color(stepValue(i)));
    svg.append("g").selectAll("text")
      .data(cfg.labels.slice(b * 6, b * 6 + 6))
      .join("text")
        .attr("x", bar.labelX)
        .attr("y", (d, i) => cfg.firstBaseline + i * cfg.rowStep)
        .attr("font-size", 63)
        .attr("fill", "#000")
        .text(d => d);
  });
};
drawLegend({
  title: "Ne (1000/cm3)", titleX: 2919, titleY: 455, top: 483, bottom: 930, barWidth: 47,
  firstBaseline: 529, rowStep: 74.6, labels: neLabels, stops: neStops, colors: neColors,
  bars: [{ x: 2929, labelX: 3014, lo: 37, hi: 68 }, { x: 3353, labelX: 3440, lo: 5, hi: 37 }]
});
drawLegend({
  title: "Te (K)", titleX: 2963, titleY: 1511, top: 1538, bottom: 1985, barWidth: 47,
  firstBaseline: 1585, rowStep: 74.4, labels: teLabels, stops: teStops, colors: teColors,
  bars: [{ x: 2973, labelX: 3059, lo: 2454, hi: 4500 }, { x: 3538, labelX: 3623, lo: 0, hi: 2454 }]
});
drawLegend({
  title: "zonal ExB (m/s)", titleX: 2960, titleY: 2549, top: 2578, bottom: 3025, barWidth: 47,
  firstBaseline: 2625, rowStep: 74.4, labels: exbLabels, stops: exbStops, colors: exbColors,
  bars: [{ x: 2973, labelX: 3060, lo: 101, hi: 1119 }, { x: 3503, labelX: 3590, lo: -1119, hi: 101 }]
});
addText(svg, 3067, 3126, "eastward", 63, "#000");
addText(svg, 3650, 3126, "westward", 63, "#000");
</script>
</body>
</html>
